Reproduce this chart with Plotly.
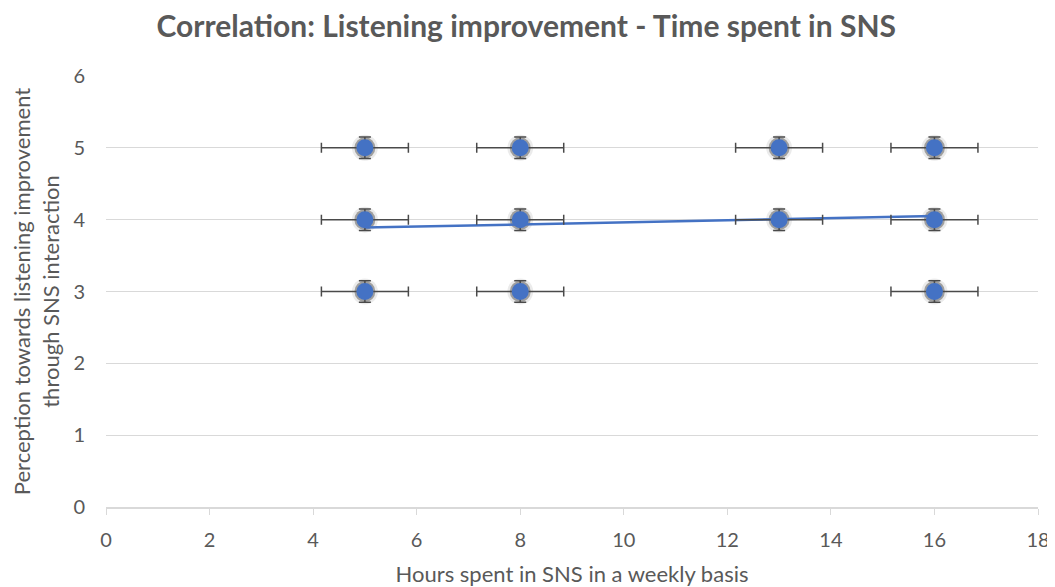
import plotly.graph_objects as go

# Data
hours = [5, 5, 5, 8, 8, 8, 13, 13, 16, 16, 16]
perception = [5, 4, 3, 5, 4, 3, 5, 4, 5, 4, 3]
x_err = 0.84
y_err = 0.15
trend_x = [5, 16]
trend_y = [3.89, 4.05]

x_ticks = [0, 2, 4, 6, 8, 10, 12, 14, 16, 18]
y_ticks = [0, 1, 2, 3, 4, 5, 6]

font_family = "Lato, Open Sans, sans-serif"
gray = "#595959"

W, H = 1047, 579

fig = go.Figure()

# soft shadow behind markers
fig.add_trace(go.Scatter(
    x=hours, y=perception, mode="markers",
    marker=dict(size=26, color="rgba(0,0,0,0.08)"),
    hoverinfo="skip", showlegend=False,
))
fig.add_trace(go.Scatter(
    x=hours, y=perception, mode="markers",
    marker=dict(size=21, color="rgba(0,0,0,0.32)"),
    hoverinfo="skip", showlegend=False,
))

# trendline
fig.add_trace(go.Scatter(
    x=trend_x, y=trend_y, mode="lines",
    line=dict(color="#4472C4", width=2.5),
    showlegend=False,
))

# points with error bars
fig.add_trace(go.Scatter(
    x=hours, y=perception, mode="markers",
    marker=dict(size=17, color="#4472C4"),
    error_x=dict(type="constant", value=x_err, color="#4a4a4a", thickness=1.5, width=5),
    error_y=dict(type="constant", value=y_err, color="#4a4a4a", thickness=1.5, width=6),
    showlegend=False,
))

fig.update_layout(
    width=W, height=H,
    paper_bgcolor="white", plot_bgcolor="white",
    margin=dict(l=98, r=17, t=68, b=80),
    title=dict(
        text="<b>Correlation: Listening improvement - Time spent in SNS</b>",
        x=0.495, xanchor="center", xref="container", y=1 - 18 / H, yref="container", yanchor="middle",
        font=dict(family=font_family, size=30, color=gray),
    ),
    font=dict(family=font_family, color=gray),
)

fig.update_xaxes(
    range=[0, 18], tickvals=x_ticks, showgrid=False, automargin=False,
    showline=True, linecolor="#D9D9D9", linewidth=1.5,
    ticks="outside", tickcolor="#D9D9D9", ticklen=6,
    tickfont=dict(size=20, color=gray), ticklabelstandoff=8,
    title=dict(text="Hours spent in SNS in a weekly basis",
               font=dict(size=22, color=gray), standoff=19),
    zeroline=False,
)
fig.update_yaxes(
    range=[0, 6], tickvals=y_ticks, showgrid=True, automargin=False,
    gridcolor="#D9D9D9", gridwidth=1,
    tickfont=dict(size=20, color=gray),
    ticks="", ticklabelstandoff=20,
    title=dict(text="Perception towards listening improvement<br>through SNS interaction",
               font=dict(size=22, color=gray), standoff=12),
    zeroline=False,
)

fig.write_html("out.html")
